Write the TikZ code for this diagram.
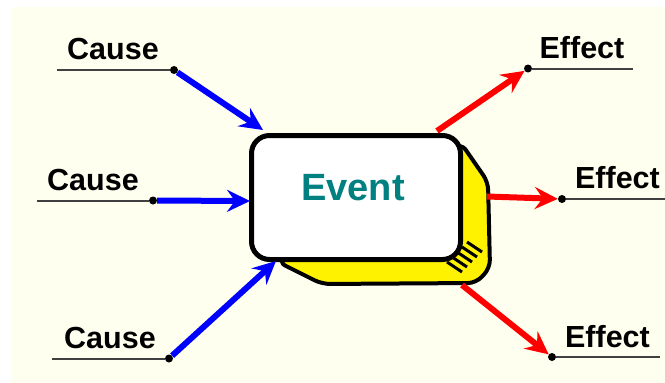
\documentclass[tikz,border=0pt]{standalone}
\usepackage{fontspec}
\setmainfont{Liberation Sans}
\usetikzlibrary{arrows.meta,positioning}
\definecolor{cream}{RGB}{255,255,240}
\definecolor{evteal}{RGB}{0,128,128}
\definecolor{linegray}{RGB}{64,64,64}
\tikzset{
  eventbox/.style={
        draw,
        line width=5pt,
        fill=white,
        rounded corners=18pt,
        minimum width=209pt,
        minimum height=124pt,
        inner sep=0pt },
  sideface/.style={draw, line width=4pt, fill=yellow, rounded corners=8pt},
  evtext/.style={text=evteal, font=\bfseries\fontsize{38}{40}\selectfont},
  lbl/.style={font=\bfseries\fontsize{30.5}{32}\selectfont, anchor=base, inner sep=0pt},
  dot/.style={circle, fill=black, inner sep=0pt, minimum size=8pt},
  underl/.style={draw=linegray, line width=2pt},
  causearrow/.style={draw=blue, line width=6pt,
        -{Stealth[length=23pt,width=22pt,inset=8pt]}},
  effectarrow/.style={draw=red, line width=6pt,
        -{Stealth[length=23pt,width=22pt,inset=8pt]}} }

\begin{document}
\begin{tikzpicture}[x=1pt,y=-1pt]
\useasboundingbox (0,0) rectangle (665,383);
\fill[cream] (12,7) rectangle (665,383);

% yellow side of the box
\draw[sideface] (461,143) -- (488,182) -- (490,268) -- (476,283)
      -- (322,284) -- (278,262) -- cycle;
\foreach \i in {0,...,4}
  \draw[line width=3pt] (467-5*\i,242+5*\i) -- (482-5*\i,252+5*\i);

\node[eventbox] (ev) at (356,197.5)
  [label={[evtext,xshift=-3pt,yshift=10pt]center:Event}] {};

% causes
\node[lbl] (c1) at (113,59) {Cause};
\node[lbl] (c2) at (93,190) {Cause};
\node[lbl] (c3) at (110,348) {Cause};
\node[dot] (c1dot) at (174,70) {};
\node[dot] (c2dot) at (153,200.5) {};
\node[dot] (c3dot) at (169,358.5) {};
\coordinate (c1start) at (57,70);
\coordinate (c2start) at (37,200.5);
\coordinate (c3start) at (52,358.5);
\coordinate (c1tip) at (263,130);
\coordinate (c2tip) at (250,201);
\coordinate (c3tip) at (276,261);

% effects
\node[lbl] (e1) at (582,58) {Effect};
\node[lbl] (e2) at (617.5,188) {Effect};
\node[lbl] (e3) at (607.5,347) {Effect};
\node[dot] (e1dot) at (528,68.5) {};
\node[dot] (e2dot) at (562,199) {};
\node[dot] (e3dot) at (552,357) {};
\coordinate (e1end) at (633,68.5);
\coordinate (e2end) at (665,199);
\coordinate (e3end) at (660,357);
\coordinate (e1from) at (437,131);
\coordinate (e2from) at (487,196.5);
\coordinate (e3from) at (462,285);

\path[underl]
(c1start) -- (c1dot)
(c2start) -- (c2dot)
(c3start) -- (c3dot)
(e1dot) -- (e1end)
(e2dot) -- (e2end)
(e3dot) -- (e3end);

\draw[causearrow] (c1dot) -- (c1tip);
\draw[causearrow] (c2dot) -- (c2tip);
\draw[causearrow] (c3dot) -- (c3tip);
\draw[effectarrow] (e1from) -- (e1dot);
\draw[effectarrow] (e2from) -- (e2dot);
\draw[effectarrow] (e3from) -- (e3dot);

\end{tikzpicture}
\end{document}
